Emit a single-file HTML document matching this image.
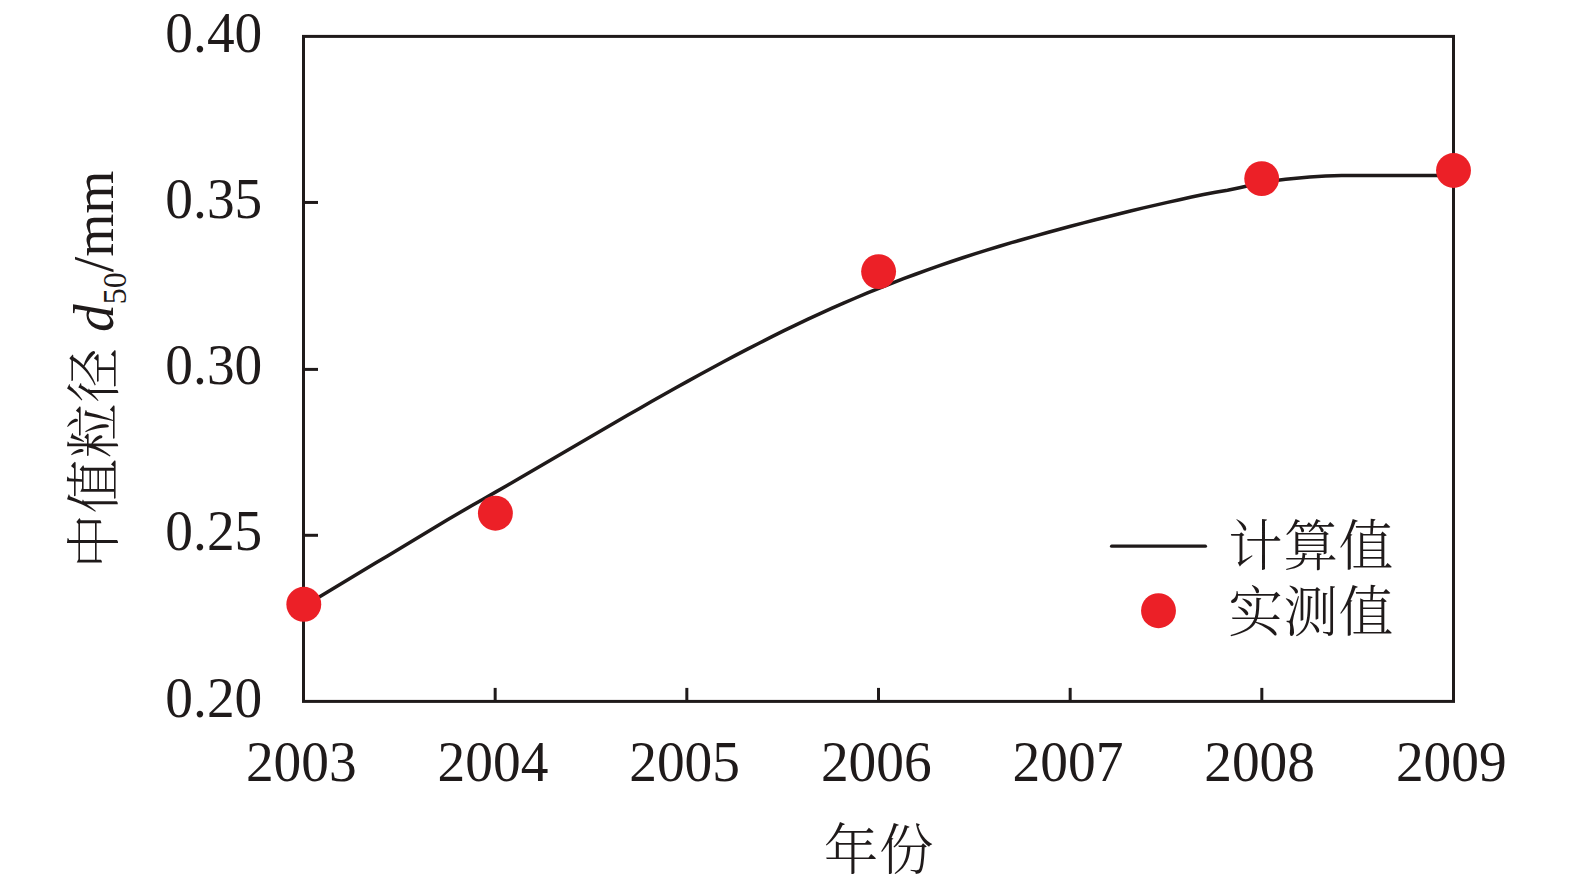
<!DOCTYPE html>
<html lang="zh-CN">
<head>
<meta charset="utf-8">
<title>中值粒径 d50 计算值与实测值</title>
<style>
html,body{margin:0;padding:0;background:#fff;}
body{width:1575px;height:881px;overflow:hidden;}
svg{display:block;}
text{font-family:"Liberation Serif","Noto Serif CJK SC",serif;fill:#1f1a1a;font-size:55.4px;}
.cjk{font-family:"Noto Serif CJK SC","Liberation Serif",serif;font-size:54.5px;font-weight:300;letter-spacing:0.8px;}
</style>
</head>
<body>
<svg width="1575" height="881" viewBox="0 0 1575 881">
<rect x="0" y="0" width="1575" height="881" fill="#ffffff"/>
<!-- plot frame -->
<rect x="303.5" y="36.4" width="1150.0" height="665.0" fill="none" stroke="#1f1a1a" stroke-width="3"/>
<!-- ticks -->
<g stroke="#1f1a1a" stroke-width="3" fill="none">
<line x1="303.5" y1="202.45" x2="318.0" y2="202.45"/>
<line x1="303.5" y1="369.40" x2="318.0" y2="369.40"/>
<line x1="303.5" y1="535.30" x2="318.0" y2="535.30"/>
<line x1="495.17" y1="701.4" x2="495.17" y2="687.9"/>
<line x1="686.83" y1="701.4" x2="686.83" y2="687.9"/>
<line x1="878.50" y1="701.4" x2="878.50" y2="687.9"/>
<line x1="1070.17" y1="701.4" x2="1070.17" y2="687.9"/>
<line x1="1261.83" y1="701.4" x2="1261.83" y2="687.9"/>
</g>
<!-- y tick labels -->
<g text-anchor="end">
<text transform="translate(262.3 51.5) scale(1 1.035)">0.40</text>
<text transform="translate(262.3 217.8) scale(1 1.035)">0.35</text>
<text transform="translate(262.3 384.0) scale(1 1.035)">0.30</text>
<text transform="translate(262.3 550.2) scale(1 1.035)">0.25</text>
<text transform="translate(262.3 716.5) scale(1 1.035)">0.20</text>
</g>
<!-- x tick labels -->
<g text-anchor="middle">
<text transform="translate(301.3 780.6) scale(1 1.03)">2003</text>
<text transform="translate(493.0 780.6) scale(1 1.03)">2004</text>
<text transform="translate(684.6 780.6) scale(1 1.03)">2005</text>
<text transform="translate(876.3 780.6) scale(1 1.03)">2006</text>
<text transform="translate(1068.0 780.6) scale(1 1.03)">2007</text>
<text transform="translate(1259.6 780.6) scale(1 1.03)">2008</text>
<text transform="translate(1451.3 780.6) scale(1 1.03)">2009</text>
</g>
<!-- axis titles -->
<text class="cjk" x="879" y="868.5" text-anchor="middle">年份</text>
<text class="cjk" transform="translate(113.1 568.5) rotate(-90)">中值粒径</text>
<text transform="translate(113.2 331.9) rotate(-90) scale(1 1.03)"><tspan font-style="italic">d</tspan><tspan font-size="32" dy="12">50</tspan><tspan dy="-12">/mm</tspan></text>
<!-- computed curve -->
<path d="M303.5,606.65 L315.5,599.37 L327.5,592.09 L339.5,584.80 L351.5,577.53 L363.5,570.29 L375.5,563.09 L387.5,555.92 L399.5,548.73 L411.5,541.50 L423.5,534.22 L435.5,526.96 L447.5,519.77 L459.5,512.72 L471.5,505.80 L483.5,498.96 L495.5,492.13 L507.5,485.26 L519.5,478.33 L531.5,471.36 L543.5,464.35 L555.5,457.33 L567.5,450.30 L579.5,443.27 L591.5,436.26 L603.5,429.26 L615.5,422.29 L627.5,415.35 L639.5,408.45 L651.5,401.60 L663.5,394.79 L675.5,388.04 L687.5,381.36 L699.5,374.74 L711.5,368.20 L723.5,361.75 L735.5,355.38 L747.5,349.11 L759.5,342.94 L771.5,336.88 L783.5,330.93 L795.5,325.11 L807.5,319.41 L819.5,313.85 L831.5,308.42 L843.5,303.14 L855.5,297.99 L867.5,292.98 L879.5,288.10 L891.5,283.35 L903.5,278.73 L915.5,274.24 L927.5,269.87 L939.5,265.63 L951.5,261.52 L963.5,257.53 L975.5,253.66 L987.5,249.90 L999.5,246.25 L1011.5,242.69 L1023.5,239.23 L1035.5,235.84 L1047.5,232.52 L1059.5,229.26 L1071.5,226.05 L1083.5,222.89 L1095.5,219.77 L1107.5,216.72 L1119.5,213.71 L1131.5,210.77 L1143.5,207.90 L1155.5,205.09 L1167.5,202.35 L1179.5,199.68 L1191.5,197.08 L1203.5,194.58 L1215.5,192.30 L1227.5,190.17 L1239.5,187.72 L1251.5,185.05 L1261.7,182.49 L1269.7,180.95 L1277.7,180.16 L1285.7,179.31 L1293.7,178.41 L1301.7,177.64 L1309.7,177.01 L1317.7,176.49 L1325.7,176.10 L1333.7,175.79 L1341.7,175.60 L1349.7,175.51 L1357.7,175.46 L1365.7,175.45 L1373.7,175.45 L1381.7,175.45 L1389.7,175.45 L1397.7,175.45 L1405.7,175.45 L1413.7,175.47 L1421.7,175.48 L1429.7,175.50 L1437.7,175.50 L1445.7,175.50 L1453.5,175.50" fill="none" stroke="#1f1a1a" stroke-width="3.5" stroke-linejoin="round" stroke-linecap="butt"/>
<!-- measured points -->
<g fill="#ec2027">
<circle cx="303.8" cy="604.3" r="17.45"/>
<circle cx="495.4" cy="513.2" r="17.45"/>
<circle cx="878.6" cy="271.6" r="17.45"/>
<circle cx="1261.7" cy="178.6" r="17.45"/>
<circle cx="1453.5" cy="170.5" r="17.45"/>
</g>
<!-- legend -->
<line x1="1111.6" y1="546.2" x2="1205.4" y2="546.2" stroke="#1f1a1a" stroke-width="3.3" stroke-linecap="round"/>
<circle cx="1158.5" cy="610.7" r="17.45" fill="#ec2027"/>
<text class="cjk" x="1228.2" y="565.3">计算值</text>
<text class="cjk" x="1228.2" y="631.2">实测值</text>
</svg>
</body>
</html>
